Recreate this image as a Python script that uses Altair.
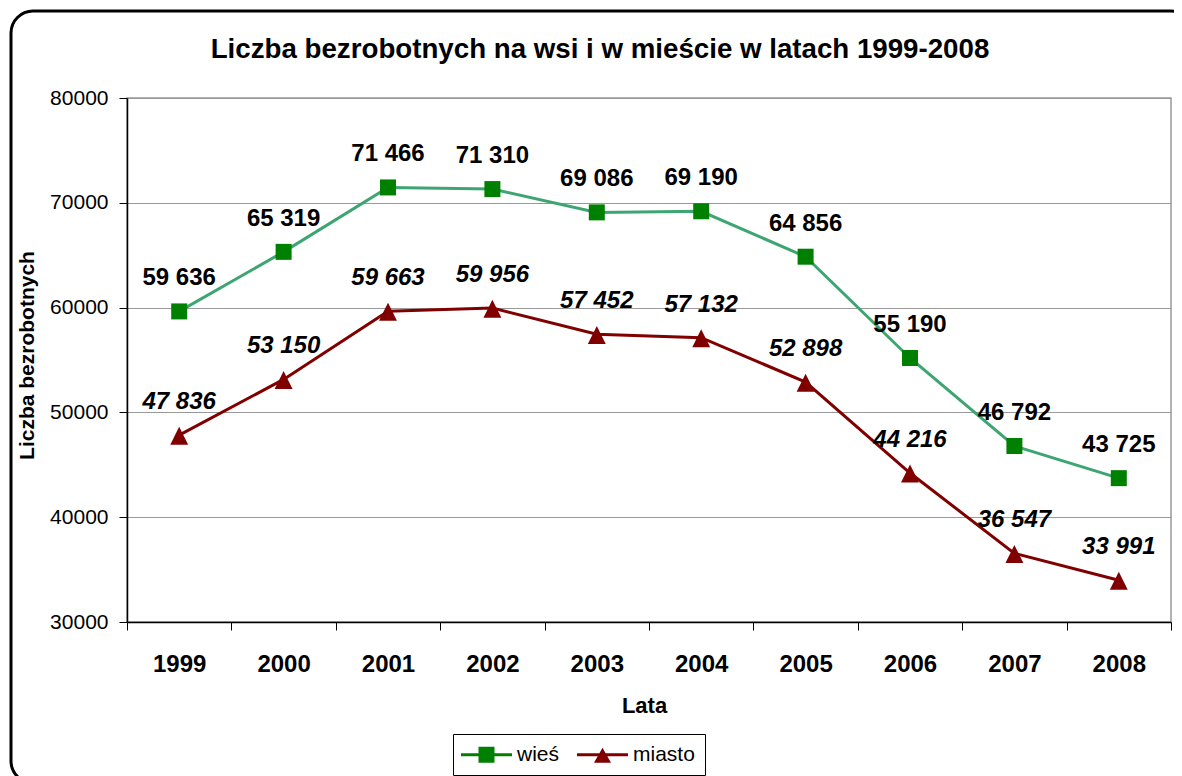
import altair as alt
import pandas as pd

# ---- data ----
years = ["1999", "2000", "2001", "2002", "2003", "2004", "2005", "2006", "2007", "2008"]
wies = [59636, 65319, 71466, 71310, 69086, 69190, 64856, 55190, 46792, 43725]
miasto = [47836, 53150, 59663, 59956, 57452, 57132, 52898, 44216, 36547, 33991]
series_names = ["wieś", "miasto"]
y_ticks = [30000, 40000, 50000, 60000, 70000, 80000]
title_text = ["Liczba bezrobotnych na wsi i w mieście w latach 1999-2008"]
y_title = "Liczba bezrobotnych"
x_title = "Lata"

FONT = "Liberation Sans"


def fmt(v):
    return f"{v:,}".replace(",", " ")


rows = []
for s, vals in zip(series_names, [wies, miasto]):
    for yr, v in zip(years, vals):
        rows.append({"rok": yr, "seria": s, "wartosc": v, "etykieta": fmt(v)})
df = pd.DataFrame(rows)

# ---- styles ----
line_colors = ["#3DA572", "#800000"]
marker_colors = ["#008000", "#800000"]
TRI = "M0,-1.05L1.12,1.2L-1.12,1.2Z"
LEG_W = "M-2.55,-0.15L2.55,-0.15L2.55,0.15L-2.55,0.15Z M-0.8,-0.8L0.8,-0.8L0.8,0.8L-0.8,0.8Z"
LEG_M = "M-2.55,-0.15L2.55,-0.15L2.55,0.15L-2.55,0.15Z M0,-0.7L0.85,0.8L-0.85,0.8Z"

x_enc = alt.X(
    "rok:O",
    sort=years,
    scale=alt.Scale(type="band", paddingInner=0, paddingOuter=0),
    axis=alt.Axis(
        title=x_title,
        tickBand="extent",
        tickSize=8,
        tickColor="#000",
        domainColor="#000",
        domainWidth=1.5,
        labelFont=FONT,
        labelFontSize=24,
        labelFontWeight="bold",
        labelColor="#000",
        labelPadding=22,
        labelAngle=0,
        grid=False,
        titleFont=FONT,
        titleFontSize=22,
        titleFontWeight="bold",
        titleColor="#000",
        titleX=517,
        titleY=90,
        titleAlign="center",
        titleBaseline="alphabetic",
    ),
)

y_enc = alt.Y(
    "wartosc:Q",
    scale=alt.Scale(domain=[y_ticks[0], y_ticks[-1]], nice=False, zero=False),
    axis=alt.Axis(
        title=y_title,
        values=y_ticks,
        format="d",
        tickSize=8,
        tickColor="#000",
        domainColor="#000",
        domainWidth=1.5,
        grid=True,
        gridColor="#999999",
        gridWidth=1,
        labelFont=FONT,
        labelFontSize=21,
        labelColor="#000",
        labelPadding=11,
        titleFont=FONT,
        titleFontSize=21,
        titleFontWeight="bold",
        titleColor="#000",
        titleAngle=270,
        titleX=-94,
        titleY=257,
        titleAlign="center",
        titleBaseline="alphabetic",
    ),
)

base = alt.Chart(df)

lines = base.mark_line(strokeWidth=3).encode(
    x=x_enc,
    y=y_enc,
    color=alt.Color("seria:N", scale=alt.Scale(domain=series_names, range=line_colors), legend=None),
)

points = base.mark_point(filled=True, opacity=1, strokeWidth=0, size=256).encode(
    x=x_enc,
    y=y_enc,
    fill=alt.Fill("seria:N", scale=alt.Scale(domain=series_names, range=marker_colors), legend=None),
    shape=alt.Shape("seria:N", scale=alt.Scale(domain=series_names, range=["square", TRI]), legend=None),
)

labels_w = base.transform_filter(alt.datum.seria == series_names[0]).mark_text(
    font=FONT, fontSize=24, fontWeight="bold", color="#000", dy=-33, baseline="middle", align="center"
).encode(x=x_enc, y=y_enc, text="etykieta:N")

labels_m = base.transform_filter(alt.datum.seria == series_names[1]).mark_text(
    font=FONT, fontSize=24, fontWeight="bold", fontStyle="italic", color="#000", dy=-33,
    baseline="middle", align="center"
).encode(x=x_enc, y=y_enc, text="etykieta:N")

leg = alt.Legend(
    title=None,
    orient="none",
    legendX=326,
    legendY=636,
    direction="horizontal",
    symbolSize=400,
    symbolStrokeWidth=0,
    symbolOffset=13,
    symbolOpacity=1,
    labelOffset=20,
    labelFont=FONT,
    labelFontSize=21,
    labelColor="#000",
    padding=10,
    strokeColor="#000",
    fillColor="#ffffff",
    columnPadding=17,
)

legend_layer = base.mark_point(filled=True, opacity=0, size=400).encode(
    x=x_enc,
    y=y_enc,
    fill=alt.Fill("seria:N", scale=alt.Scale(domain=series_names, range=marker_colors), legend=leg),
    shape=alt.Shape("seria:N", scale=alt.Scale(domain=series_names, range=[LEG_W, LEG_M]), legend=leg),
)

frame = alt.Chart(pd.DataFrame({"k": [0]})).mark_rect(
    fillOpacity=0, stroke="#000", strokeWidth=3, cornerRadius=22
).encode(x=alt.value(-116), x2=alt.value(1066), y=alt.value(-87), y2=alt.value(685))

title = alt.Chart(pd.DataFrame({"t": title_text})).mark_text(
    font=FONT, fontSize=27.7, fontWeight="bold", color="#000", align="center", baseline="alphabetic"
).encode(text="t:N", x=alt.value(473), y=alt.value(-40))

chart = (
    alt.layer(frame, lines, points, labels_w, labels_m, legend_layer, title)
    .resolve_scale(fill="independent", shape="independent")
    .properties(
        width=1044,
        height=524,
        autosize=alt.AutoSizeParams(type="none"),
        padding={"left": 119, "top": 90, "right": 3, "bottom": 154},
        background="white",
    )
    .configure_view(stroke="#999999", strokeWidth=1.5)
)

chart.save("out.html", embed_options={"renderer": "svg", "actions": False})
